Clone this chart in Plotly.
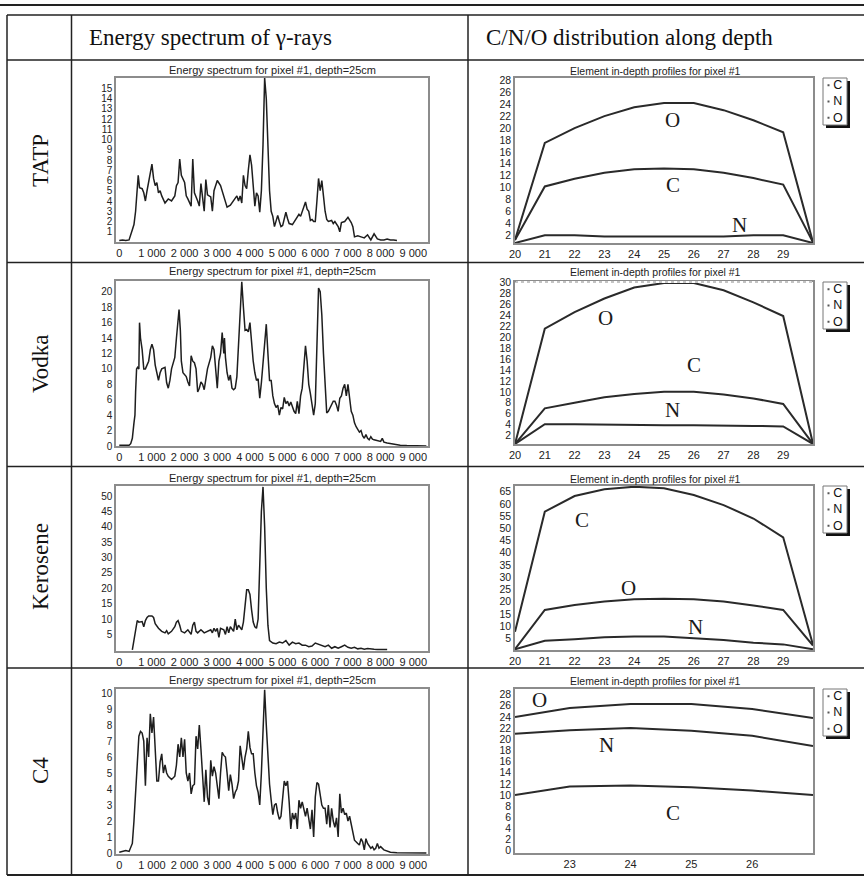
import plotly.graph_objects as go

W, H = 864, 883

materials = ["TATP", "Vodka", "Kerosene", "C4"]
column_titles = ["Energy spectrum of γ-rays", "C/N/O distribution along depth"]
spectrum_title = "Energy spectrum for pixel #1, depth=25cm"
profile_title = "Element in-depth profiles for pixel #1"

# Gamma-ray spectra: (energy keV, counts)
tatp_spectrum = [
    (0, 0.15), (100, 0.2), (200, 0.15), (300, 0.2), (400, 1.2), (450, 1.7), (500, 3.0),
    (550, 5.0), (580, 6.5), (620, 5.3), (700, 5.2), (750, 4.8), (800, 4.0), (850, 5.0),
    (900, 5.8), (950, 6.8), (1000, 7.6), (1050, 6.2), (1100, 5.5), (1150, 5.8), (1200, 4.8),
    (1250, 5.0), (1300, 4.5), (1400, 3.8), (1500, 4.2), (1600, 4.0), (1700, 4.5), (1750, 5.5),
    (1800, 5.8), (1850, 8.1), (1900, 6.5), (2000, 5.8), (2050, 4.5), (2100, 4.2), (2200, 3.5),
    (2250, 8.1), (2300, 4.8), (2400, 4.0), (2450, 3.5), (2500, 5.7), (2550, 4.0), (2600, 3.0),
    (2650, 6.1), (2700, 4.6), (2800, 4.4), (2850, 3.0), (2900, 5.0), (2950, 5.5), (3000, 6.0),
    (3100, 5.5), (3200, 4.5), (3300, 3.4), (3400, 3.6), (3500, 4.0), (3600, 4.5), (3650, 4.0),
    (3700, 4.5), (3750, 3.8), (3800, 6.5), (3850, 5.5), (3900, 5.2), (3950, 7.0), (4000, 8.5),
    (4050, 7.5), (4100, 5.5), (4150, 3.5), (4200, 4.8), (4250, 4.5), (4300, 2.9), (4350, 5.0),
    (4400, 9.5), (4450, 16.0), (4500, 14.0), (4550, 9.0), (4600, 5.0), (4650, 3.0), (4700, 2.5),
    (4750, 1.5), (4800, 2.2), (4850, 2.6), (4900, 2.0), (4950, 1.5), (5000, 1.6), (5050, 2.4),
    (5100, 2.9), (5150, 2.3), (5200, 1.8), (5300, 1.7), (5400, 2.2), (5500, 2.7), (5550, 2.5),
    (5600, 3.0), (5650, 3.3), (5700, 3.9), (5750, 3.2), (5800, 3.0), (5850, 2.1), (5900, 2.2),
    (5950, 2.0), (6000, 2.0), (6050, 4.0), (6100, 6.2), (6150, 5.0), (6200, 6.0), (6250, 4.5),
    (6300, 3.0), (6350, 2.2), (6400, 2.0), (6500, 2.1), (6550, 1.8), (6600, 2.0), (6700, 1.5),
    (6750, 1.0), (6800, 1.9), (6900, 2.0), (7000, 2.4), (7100, 1.9), (7150, 1.5), (7200, 0.5),
    (7300, 0.6), (7400, 0.5), (7500, 0.4), (7600, 0.7), (7700, 0.2), (7800, 0.8), (7850, 0.5),
    (7900, 0.3), (8000, 0.2), (8100, 0.2), (8200, 0.3), (8300, 0.2), (8400, 0.2), (8500, 0.15),
]

vodka_spectrum = [
    (0, 0.1), (150, 0.1), (300, 0.1), (350, 0.3), (400, 1.0), (450, 3.0), (480, 4.0), (500, 7.0),
    (530, 10.0), (560, 10.2), (600, 10.0), (620, 16.0), (650, 14.0), (700, 12.5), (750, 10.0),
    (800, 10.0), (850, 10.5), (900, 11.0), (950, 12.5), (1000, 13.2), (1050, 12.5), (1100, 10.5),
    (1150, 9.5), (1200, 8.5), (1250, 9.5), (1300, 10.0), (1400, 10.2), (1450, 8.2), (1500, 7.5),
    (1550, 8.5), (1600, 10.0), (1650, 10.7), (1700, 11.5), (1750, 14.0), (1800, 16.5), (1830, 17.7),
    (1870, 15.0), (1900, 11.0), (1950, 9.5), (2000, 9.2), (2050, 9.0), (2100, 8.3), (2150, 7.8),
    (2200, 11.7), (2250, 11.0), (2300, 10.8), (2350, 10.0), (2400, 7.0), (2450, 7.5), (2500, 8.3),
    (2550, 8.0), (2600, 7.3), (2650, 9.0), (2700, 10.0), (2800, 11.5), (2850, 13.0), (2900, 12.5),
    (2950, 10.0), (3000, 7.5), (3050, 11.0), (3100, 12.0), (3150, 14.7), (3200, 12.0), (3220, 14.0),
    (3250, 11.5), (3300, 9.5), (3350, 8.5), (3400, 9.2), (3450, 7.5), (3500, 7.3), (3550, 7.5),
    (3600, 9.0), (3650, 13.0), (3700, 17.0), (3750, 21.3), (3800, 18.0), (3850, 15.0), (3900, 15.1),
    (3950, 14.8), (4000, 16.0), (4050, 13.0), (4100, 11.0), (4150, 9.5), (4200, 8.5), (4250, 8.7),
    (4300, 6.2), (4350, 8.2), (4400, 11.0), (4450, 14.0), (4500, 15.8), (4550, 12.0), (4600, 8.5),
    (4650, 8.5), (4700, 6.5), (4750, 5.5), (4800, 5.0), (4850, 5.3), (4900, 4.0), (4950, 5.0),
    (5000, 4.8), (5050, 6.3), (5100, 5.5), (5150, 5.8), (5200, 5.2), (5250, 5.7), (5300, 5.0),
    (5350, 4.5), (5400, 4.2), (5450, 5.8), (5500, 4.2), (5550, 6.5), (5600, 7.5), (5650, 10.0),
    (5700, 13.0), (5750, 11.0), (5800, 8.0), (5850, 6.8), (5900, 5.5), (5950, 4.0), (6000, 5.5),
    (6050, 12.0), (6100, 20.5), (6150, 20.0), (6200, 17.0), (6250, 12.0), (6300, 8.0), (6350, 4.3),
    (6400, 4.5), (6450, 5.0), (6500, 5.3), (6550, 5.8), (6600, 5.8), (6650, 5.3), (6700, 4.5),
    (6750, 6.2), (6800, 6.5), (6850, 7.5), (6900, 8.0), (6950, 6.5), (7000, 8.0), (7050, 6.0),
    (7100, 4.5), (7150, 4.0), (7200, 3.0), (7250, 2.5), (7300, 2.2), (7350, 1.8), (7400, 2.0),
    (7450, 1.3), (7500, 1.0), (7550, 1.5), (7600, 1.0), (7650, 0.8), (7700, 1.2), (7750, 0.9),
    (7800, 0.8), (7900, 0.7), (8000, 0.6), (8050, 1.0), (8100, 0.5), (8200, 0.4), (8300, 0.3),
    (8400, 0.2), (8500, 0.15), (8600, 0.1), (8800, 0.05), (9000, 0.05), (9400, 0.0),
]

kerosene_spectrum = [
    (400, 0.0), (550, 9.5), (600, 9.0), (700, 9.2), (750, 7.5), (800, 9.5), (850, 10.5),
    (900, 11.0), (1000, 11.0), (1050, 10.5), (1100, 8.5), (1200, 7.0), (1300, 6.0), (1400, 5.5),
    (1450, 6.2), (1500, 5.2), (1600, 6.0), (1700, 7.5), (1750, 9.0), (1800, 9.5), (1850, 8.0),
    (1900, 6.0), (2000, 5.5), (2100, 6.5), (2200, 5.0), (2250, 8.0), (2300, 9.0), (2350, 6.0),
    (2400, 5.5), (2500, 6.5), (2600, 5.5), (2700, 6.0), (2800, 6.5), (2850, 5.5), (2900, 7.0),
    (2950, 6.0), (3000, 7.0), (3050, 4.0), (3100, 7.0), (3200, 6.5), (3250, 5.0), (3300, 7.5),
    (3350, 5.5), (3400, 7.5), (3500, 6.0), (3550, 10.0), (3600, 6.5), (3650, 8.0), (3700, 7.0),
    (3750, 6.5), (3800, 9.0), (3850, 15.0), (3900, 19.5), (3950, 19.5), (4000, 18.0), (4050, 13.0),
    (4100, 9.0), (4150, 7.5), (4200, 7.0), (4250, 10.0), (4300, 25.0), (4350, 45.0), (4400, 53.0),
    (4450, 40.0), (4500, 20.0), (4550, 8.0), (4600, 3.0), (4700, 2.2), (4800, 2.0), (4900, 2.5),
    (5000, 2.2), (5100, 3.0), (5200, 1.5), (5300, 2.5), (5400, 2.0), (5500, 2.2), (5600, 1.5),
    (5700, 1.5), (5800, 1.0), (5900, 1.2), (6000, 2.2), (6100, 1.8), (6200, 1.5), (6300, 1.0),
    (6400, 1.5), (6500, 0.5), (6600, 1.0), (6700, 0.5), (6800, 1.0), (6900, 1.5), (7000, 0.8),
    (7100, 0.5), (7200, 0.8), (7300, 0.3), (7400, 0.5), (7500, 0.2), (7600, 0.4), (7700, 0.2),
    (7800, 0.15), (7900, 0.1), (8000, 0.1), (8100, 0.1), (8200, 0.05),
]

c4_spectrum = [
    (0, 0.05), (100, 0.1), (200, 0.15), (300, 0.1), (350, 0.3), (400, 0.6), (450, 2.0),
    (500, 4.0), (550, 6.0), (600, 7.3), (650, 7.6), (700, 7.5), (750, 7.0), (800, 4.2),
    (850, 7.2), (900, 6.0), (950, 8.7), (1000, 7.5), (1050, 8.5), (1100, 6.0), (1150, 4.5),
    (1200, 4.5), (1250, 5.7), (1300, 6.2), (1350, 5.0), (1400, 5.5), (1450, 5.0), (1500, 4.8),
    (1600, 4.6), (1700, 4.8), (1750, 5.5), (1800, 6.8), (1850, 6.0), (1900, 7.2), (1950, 6.0),
    (2000, 7.1), (2050, 5.0), (2100, 4.5), (2150, 5.0), (2200, 3.7), (2250, 4.2), (2300, 4.3),
    (2350, 7.3), (2400, 6.5), (2450, 8.0), (2500, 6.5), (2550, 5.0), (2600, 3.2), (2650, 5.2),
    (2700, 3.5), (2750, 3.0), (2800, 5.8), (2850, 4.8), (2900, 5.4), (2950, 5.0), (3000, 4.0),
    (3050, 3.4), (3100, 5.0), (3150, 6.3), (3200, 6.1), (3250, 6.0), (3300, 5.0), (3350, 3.9),
    (3400, 4.9), (3450, 4.3), (3500, 3.4), (3550, 3.8), (3600, 4.0), (3650, 4.5), (3700, 6.7),
    (3750, 6.0), (3800, 5.2), (3850, 6.0), (3900, 6.5), (3950, 7.6), (4000, 6.6), (4050, 6.2),
    (4100, 6.2), (4150, 5.0), (4200, 4.2), (4250, 3.8), (4300, 3.0), (4350, 5.0), (4400, 8.0),
    (4450, 10.2), (4500, 8.0), (4550, 6.0), (4600, 4.3), (4650, 3.3), (4700, 2.4), (4750, 3.0),
    (4800, 3.1), (4850, 2.5), (4900, 2.1), (4950, 2.3), (5000, 3.2), (5050, 4.5), (5100, 4.2),
    (5150, 4.5), (5200, 3.2), (5250, 1.5), (5300, 2.5), (5350, 2.1), (5400, 2.5), (5450, 1.5),
    (5500, 3.3), (5550, 2.8), (5600, 3.2), (5650, 2.7), (5700, 2.3), (5750, 2.8), (5800, 2.2),
    (5850, 1.5), (5900, 2.7), (5950, 1.0), (6000, 3.5), (6050, 4.4), (6100, 4.3), (6150, 3.5),
    (6200, 3.0), (6250, 2.8), (6300, 2.8), (6350, 1.8), (6400, 3.0), (6450, 1.6), (6500, 2.8),
    (6550, 2.0), (6600, 1.6), (6650, 2.2), (6700, 1.0), (6750, 3.7), (6800, 2.5), (6850, 2.8),
    (6900, 2.4), (6950, 2.5), (7000, 2.0), (7050, 2.3), (7100, 1.8), (7150, 1.2), (7200, 0.8),
    (7300, 0.6), (7350, 0.5), (7400, 0.9), (7450, 0.7), (7500, 0.2), (7550, 0.9), (7600, 0.6),
    (7700, 0.3), (7750, 0.4), (7800, 0.2), (7850, 0.3), (7900, 0.6), (7950, 0.3), (8000, 0.4),
    (8100, 0.2), (8200, 0.1), (8300, 0.05), (8500, 0.02), (9000, 0.0), (9400, 0.0),
]

spectra = [tatp_spectrum, vodka_spectrum, kerosene_spectrum, c4_spectrum]

# Element in-depth profiles (depth cm)
depth_full = [20, 21, 22, 23, 24, 25, 26, 27, 28, 29, 30]
depth_c4 = [22.1, 23, 24, 25, 26, 27]

tatp_C = [1.2, 10.2, 11.5, 12.5, 13.1, 13.2, 13.1, 12.5, 11.6, 10.5, 0.8]
tatp_N = [0.7, 2.0, 2.0, 1.8, 1.8, 1.8, 1.8, 1.8, 2.0, 2.0, 0.7]
tatp_O = [1.2, 17.5, 20.0, 22.0, 23.5, 24.2, 24.2, 23.0, 21.3, 19.3, 0.8]

vodka_C = [0.5, 7.0, 8.0, 9.0, 9.6, 10.0, 10.0, 9.5, 8.8, 7.8, 0.5]
vodka_N = [0.5, 4.1, 4.1, 4.0, 4.0, 3.9, 3.9, 3.9, 3.8, 3.7, 0.5]
vodka_O = [0.5, 21.5, 24.5, 27.0, 29.0, 29.8, 29.8, 28.5, 26.3, 23.8, 0.5]

kerosene_C = [7.7, 56.8, 63.2, 66.0, 67.0, 66.4, 63.6, 59.5, 54.0, 46.3, 2.3]
kerosene_N = [0.5, 4.0, 4.6, 5.4, 5.7, 5.7, 5.0, 4.3, 3.2, 2.5, 0.5]
kerosene_O = [0.5, 16.6, 18.6, 20.0, 21.0, 21.2, 21.0, 20.0, 18.4, 16.6, 2.0]

c4_C = [10.0, 11.5, 11.7, 11.4, 10.8, 10.0]
c4_N = [21.0, 21.6, 22.0, 21.5, 20.6, 18.8]
c4_O = [24.0, 25.6, 26.3, 26.3, 25.4, 23.8]

profiles = [
    (depth_full, {"C": tatp_C, "N": tatp_N, "O": tatp_O}),
    (depth_full, {"C": vodka_C, "N": vodka_N, "O": vodka_O}),
    (depth_full, {"C": kerosene_C, "N": kerosene_N, "O": kerosene_O}),
    (depth_c4, {"C": c4_C, "N": c4_N, "O": c4_O}),
]

# Curve name labels placed inside the profile panels (depth, value)
profile_labels = [
    {"O": (25.3, 21.4), "C": (25.3, 10.4), "N": (27.55, 3.7)},
    {"O": (23.05, 23.4), "C": (26.0, 14.9), "N": (25.3, 6.7)},
    {"C": (22.25, 53.4), "O": (23.8, 25.7), "N": (26.05, 9.8)},
    {"O": (22.5, 27.1), "N": (23.6, 19.0), "C": (24.7, 6.8)},
]

energy_ticks = [0, 1000, 2000, 3000, 4000, 5000, 6000, 7000, 8000, 9000]
energy_ticktext = ["0", "1 000", "2 000", "3 000", "4 000", "5 000", "6 000", "7 000", "8 000", "9 000"]

spectrum_yticks = [
    list(range(1, 16)),
    list(range(0, 21, 2)),
    list(range(5, 51, 5)),
    list(range(0, 11)),
]
spectrum_yrange = [[0, 16], [0, 21.4], [-0.4, 53.3], [-0.06, 10.25]]

profile_xticks = [list(range(20, 30))] * 3 + [[23, 24, 25, 26]]
profile_xrange = [[20, 30], [20, 30], [20, 30], [22.1, 27.0]]
profile_yticks = [
    list(range(2, 29, 2)),
    list(range(2, 31, 2)),
    list(range(5, 66, 5)),
    list(range(0, 29, 2)),
]
profile_yrange = [[0.7, 28.4], [0.5, 30], [0.2, 67.3], [-0.4, 29]]

# Panel boxes in pixels: (top, bottom)
spec_rows = [(78, 242), (281, 446), (486, 651), (689, 854)]
prof_rows = [(78, 243), (282, 444), (486, 650), (689, 853)]
spec_x = (116, 428)
prof_x = (515, 813)
title_y = [70, 271, 478, 680]
row_dividers = [60, 262.5, 466.5, 668]
table_bottom = 875
row_label_y = [161, 364, 567, 771]


def px(x):
    return x / W


def py(y):
    return 1 - y / H


SANS = "Liberation Sans, Arial, sans-serif"
SERIF = "Liberation Serif, Times New Roman, serif"
FRAME = "#8c8c8c"
LEGEND_FONT = 12.5
LEGEND_STEP = 1.3 * LEGEND_FONT


def paper_text(x, y, text, font, xanchor="center", yanchor="middle", angle=0):
    return dict(x=px(x), y=py(y), xref="paper", yref="paper", text=text, showarrow=False,
                xanchor=xanchor, yanchor=yanchor, textangle=angle, font=font)


fig = go.Figure()
layout = dict(
    width=W, height=H, margin=dict(l=0, r=0, t=0, b=0, autoexpand=False),
    paper_bgcolor="white", plot_bgcolor="white", showlegend=False,
)
annotations = []
shapes = []

axis_common = dict(ticks="", showgrid=False, zeroline=False, showline=True, mirror=True,
                   linecolor=FRAME, linewidth=1.5, automargin=False)

for r in range(4):
    # spectrum panel
    k = 2 * r + 1
    xa, ya = f"x{k}", f"y{k}"
    top, bot = spec_rows[r]
    energies = [e for e, _ in spectra[r]]
    counts = [c for _, c in spectra[r]]
    fig.add_trace(go.Scatter(x=energies, y=counts, mode="lines", xaxis=xa, yaxis=ya,
                             line=dict(color="#1e1e1e", width=1.5), hoverinfo="skip"))
    layout[f"xaxis{k}"] = dict(
        domain=[px(spec_x[0]), px(spec_x[1])], anchor=ya, range=[-100, 9450],
        tickvals=energy_ticks, ticktext=energy_ticktext, ticklabelstandoff=0,
        tickfont=dict(family=SANS, size=11, color="#222"), **axis_common,
    )
    layout[f"yaxis{k}"] = dict(
        domain=[py(bot), py(top)], anchor=xa, range=spectrum_yrange[r],
        tickvals=spectrum_yticks[r],
        tickfont=dict(family=SANS, size=10, color="#222"), **axis_common,
    )
    annotations.append(paper_text(272, title_y[r], spectrum_title,
                                  dict(family=SANS, size=11, color="#222")))

    # profile panel
    k = 2 * r + 2
    xa, ya = f"x{k}", f"y{k}"
    top, bot = prof_rows[r]
    depth, series = profiles[r]
    for name in ["C", "N", "O"]:
        fig.add_trace(go.Scatter(x=depth, y=series[name], mode="lines", xaxis=xa, yaxis=ya,
                                 line=dict(color="#2a2a2a", width=2), hoverinfo="skip"))
    layout[f"xaxis{k}"] = dict(
        domain=[px(prof_x[0]), px(prof_x[1])], anchor=ya, range=profile_xrange[r],
        tickvals=profile_xticks[r], ticklabelstandoff=0,
        tickfont=dict(family=SANS, size=11, color="#222"), **axis_common,
    )
    layout[f"yaxis{k}"] = dict(
        domain=[py(bot), py(top)], anchor=xa, range=profile_yrange[r],
        tickvals=profile_yticks[r],
        tickfont=dict(family=SANS, size=10.5, color="#222"), **axis_common,
    )
    for name, (lx, ly) in profile_labels[r].items():
        annotations.append(dict(x=lx, y=ly, xref=xa, yref=ya, text=name, showarrow=False,
                                xanchor="center", yanchor="middle",
                                font=dict(family=SERIF, size=21, color="#1a1a1a")))
    annotations.append(paper_text(655, title_y[r] + 1, profile_title,
                                  dict(family=SANS, size=10.5, color="#222")))

    # legend box with drop shadow
    lt = top
    shapes.append(dict(type="rect", xref="paper", yref="paper",
                       x0=px(826), x1=px(850), y0=py(lt + 50), y1=py(lt + 3),
                       fillcolor="#111", line=dict(width=0)))
    shapes.append(dict(type="rect", xref="paper", yref="paper",
                       x0=px(823), x1=px(847), y0=py(lt + 47), y1=py(lt),
                       fillcolor="white", line=dict(color="#777", width=1)))
    mid = lt + 23.5
    for j in range(3):
        yy = mid + (j - 1) * LEGEND_STEP
        shapes.append(dict(type="rect", xref="paper", yref="paper",
                           x0=px(827.5), x1=px(829.5), y0=py(yy + 1), y1=py(yy - 1),
                           fillcolor="#555", line=dict(width=0)))
    annotations.append(paper_text(838, mid, "C<br>N<br>O",
                                  dict(family=SANS, size=LEGEND_FONT, color="#111")))

    # row label
    annotations.append(paper_text(40, row_label_y[r], materials[r],
                                  dict(family=SERIF, size=23, color="#111"), angle=-90))

# column headings
annotations.append(paper_text(87, 38, column_titles[0],
                              dict(family=SERIF, size=23, color="#111"), xanchor="left"))
annotations.append(paper_text(484, 38, column_titles[1],
                              dict(family=SERIF, size=23, color="#111"), xanchor="left"))

# the depth-profile panel for vodka has a dotted upper frame edge
vt = prof_rows[1][0]
shapes.append(dict(type="line", xref="paper", yref="paper", x0=px(prof_x[0] + 1), x1=px(prof_x[1] - 1),
                   y0=py(vt), y1=py(vt), line=dict(color="white", width=2)))
shapes.append(dict(type="line", xref="paper", yref="paper", x0=px(prof_x[0]), x1=px(prof_x[1]),
                   y0=py(vt), y1=py(vt), line=dict(color="#8c8c8c", width=1.2, dash="dot")))


# table rules
def hline(y, x0, x1, w=1.5):
    shapes.append(dict(type="line", xref="paper", yref="paper", x0=px(x0), x1=px(x1),
                       y0=py(y), y1=py(y), line=dict(color="#222", width=w)))


def vline(x, y0, y1, w=1.5):
    shapes.append(dict(type="line", xref="paper", yref="paper", x0=px(x), x1=px(x),
                       y0=py(y0), y1=py(y1), line=dict(color="#222", width=w)))


hline(5, 0, W, 2)
hline(15, 7, W)
for y in row_dividers:
    hline(y, 7, W)
hline(table_bottom, 7, W, 2)
vline(7, 15, table_bottom)
vline(71.5, 15, table_bottom)
vline(468, 15, table_bottom)

layout["annotations"] = annotations
layout["shapes"] = shapes
fig.update_layout(**layout)
fig.write_html("out.html")
